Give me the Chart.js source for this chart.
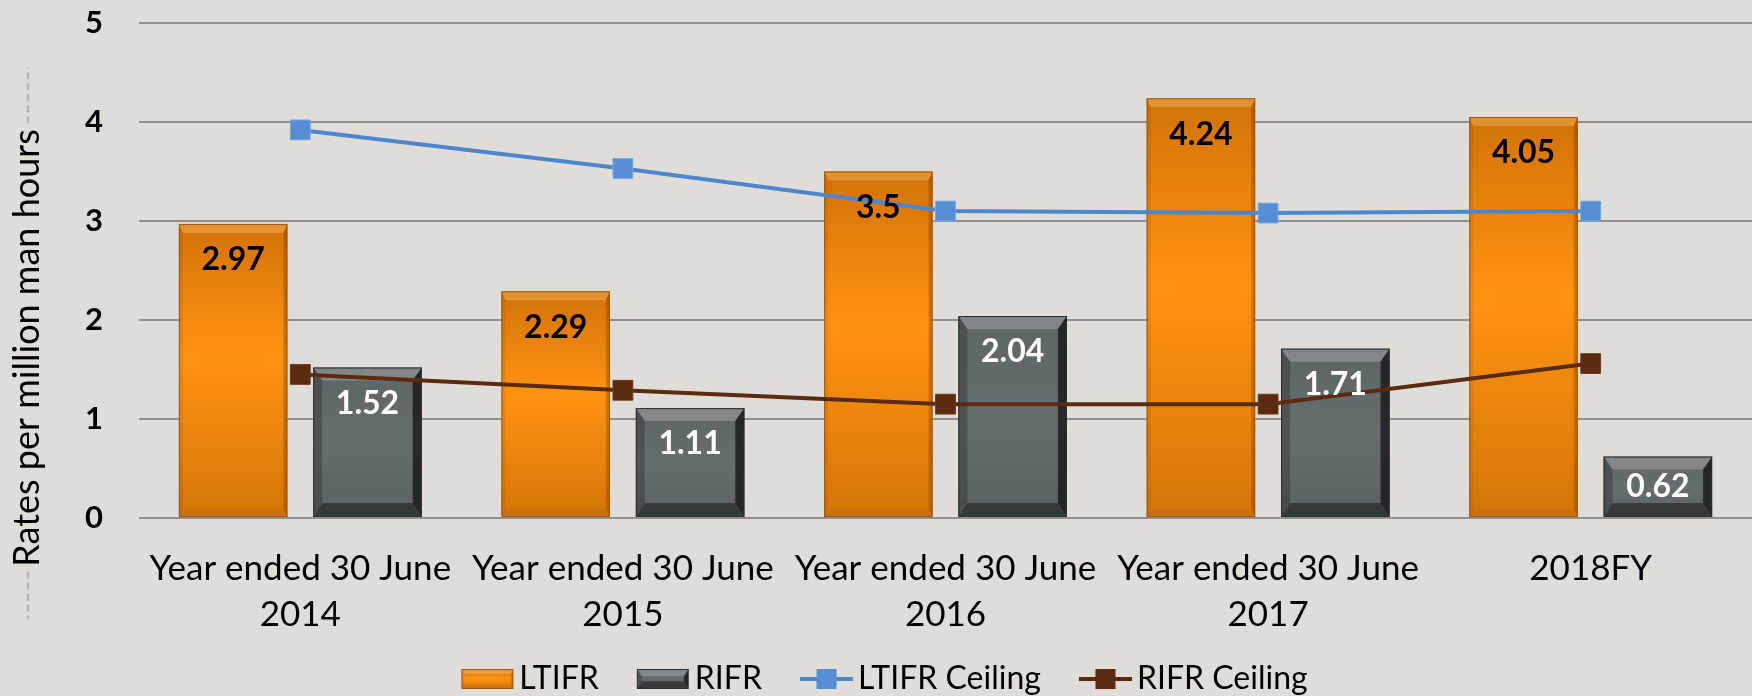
<!DOCTYPE html>
<html>
<head>
<meta charset="utf-8">
<script src="https://cdn.jsdelivr.net/npm/chart.js@4/dist/chart.umd.min.js"></script>
<style>
html,body{margin:0;padding:0;background:#e0ddd8;}
#wrap{width:1752px;height:696px;position:relative;}
canvas{display:block;}
</style>
</head>
<body>
<div id="wrap"><canvas id="c" width="1752" height="696"></canvas></div>
<script>
// ---- data ----
const categories = [["Year ended 30 June","2014"],["Year ended 30 June","2015"],["Year ended 30 June","2016"],["Year ended 30 June","2017"],"2018FY"];
const ltifr = [2.97, 2.29, 3.5, 4.24, 4.05];
const rifr = [1.52, 1.11, 2.04, 1.71, 0.62];
const ltifrCeiling = [3.92, 3.53, 3.10, 3.08, 3.10];
const rifrCeiling = [1.45, 1.29, 1.15, 1.15, 1.56];
const yTicks = [0, 1, 2, 3, 4, 5];
const seriesNames = ["LTIFR", "RIFR", "LTIFR Ceiling", "RIFR Ceiling"];
const yTitle = "Rates per million man hours";

// ---- styles ----
const BG = '#e0ddd8';
const FONT = 'Lato, "Open Sans", sans-serif';
const barStyles = [
  { body: [[0,'#d27207'],[0.45,'#ff9312'],[1,'#d57508']], top:'rgba(255,205,130,0.35)', bottom:'rgba(120,60,0,0.10)',
    left:'rgba(120,60,0,0.12)', right:'rgba(90,40,0,0.28)', bt:9, bb:8, s:4, border:'rgba(150,85,20,0.9)', label:'#000000' },
  { body: [[0,'#5e6567'],[0.5,'#666d6f'],[1,'#5b6264']], top:'rgba(255,255,255,0.22)', bottom:'rgba(0,0,0,0.42)',
    left:'rgba(0,0,0,0.22)', right:'rgba(0,0,0,0.62)', bt:13, bb:14, s:9, border:'#2b2f31', label:'#ffffff' }
];
const lineStyles = [
  { line:'#4f85cb', point:'#558ed5', pborder:'#7aa6de' },
  { line:'#5a2b0e', point:'#5a2b0e', pborder:'#6e3a1a' }
];

function poly(ctx, pts, fill) {
  ctx.beginPath();
  ctx.moveTo(pts[0][0], pts[0][1]);
  for (let i = 1; i < pts.length; i++) ctx.lineTo(pts[i][0], pts[i][1]);
  ctx.closePath();
  ctx.fillStyle = fill;
  ctx.fill();
}
function drawBevelBar(ctx, left, top, right, bottom, P, scale) {
  const w = right - left, h = bottom - top;
  if (h <= 0 || w <= 0) return;
  const k = scale || 1;
  const g = ctx.createLinearGradient(0, top, 0, bottom);
  P.body.forEach(([o, c]) => g.addColorStop(o, c));
  ctx.fillStyle = g;
  ctx.fillRect(left, top, w, h);
  const bt = Math.min(P.bt * k, h / 2), bb = Math.min(P.bb * k, h / 2), s = Math.min(P.s * k, w / 2);
  poly(ctx, [[left, top], [right, top], [right - s, top + bt], [left + s, top + bt]], P.top);
  poly(ctx, [[left, bottom], [right, bottom], [right - s, bottom - bb], [left + s, bottom - bb]], P.bottom);
  poly(ctx, [[left, top], [left + s, top + bt], [left + s, bottom - bb], [left, bottom]], P.left);
  poly(ctx, [[right, top], [right - s, top + bt], [right - s, bottom - bb], [right, bottom]], P.right);
  ctx.strokeStyle = P.border;
  ctx.lineWidth = 1;
  ctx.strokeRect(left + 0.5, top + 0.5, w - 1, h - 1);
}

// ---- legend icons (offset so that they sit just before the text) ----
const LEG_BOX = 79, ICON_W = 53;
function makeIcon(kind, idx) {
  const c = document.createElement('canvas');
  c.width = LEG_BOX + 22; c.height = 22;
  const x = c.getContext('2d');
  const l = c.width - ICON_W;
  if (kind === 'bar') {
    drawBevelBar(x, l, 1, c.width - 1, 21, barStyles[idx], 0.55);
  } else {
    const S = lineStyles[idx];
    x.fillStyle = S.line;
    x.fillRect(l, 9, ICON_W, 4);
    x.fillStyle = S.point;
    x.fillRect(l + ICON_W / 2 - 10, 1, 20, 20);
  }
  return c;
}
const legendIcons = [makeIcon('bar', 0), makeIcon('bar', 1), makeIcon('line', 0), makeIcon('line', 1)];

// ---- plugins ----
const bgPlugin = {
  id: 'bg',
  beforeDraw(chart) {
    const ctx = chart.ctx;
    ctx.save();
    ctx.fillStyle = BG;
    ctx.fillRect(0, 0, chart.width, chart.height);
    ctx.restore();
  }
};
const bevelPlugin = {
  id: 'bevel',
  afterDatasetDraw(chart, args) {
    const i = args.index;
    if (i > 1) return;
    const ctx = chart.ctx;
    const meta = chart.getDatasetMeta(i);
    ctx.save();
    meta.data.forEach(el => {
      const p = el.getProps(['x', 'y', 'width', 'base'], true);
      drawBevelBar(ctx, p.x - p.width / 2, p.y, p.x + p.width / 2, p.base, barStyles[i]);
    });
    ctx.restore();
  }
};
const labelPlugin = {
  id: 'vlabels',
  afterDatasetsDraw(chart) {
    const ctx = chart.ctx;
    ctx.save();
    ctx.font = 'bold 32px ' + FONT;
    ctx.textAlign = 'center';
    ctx.textBaseline = 'middle';
    [0, 1].forEach(i => {
      const meta = chart.getDatasetMeta(i);
      const vals = chart.data.datasets[i].data;
      meta.data.forEach((el, j) => {
        const p = el.getProps(['x', 'y', 'base'], true);
        const h = p.base - p.y;
        ctx.fillStyle = barStyles[i].label;
        ctx.fillText(String(vals[j]), p.x, p.y + Math.min(36, h / 2));
      });
    });
    ctx.restore();
  }
};
const yTitlePlugin = {
  id: 'ytitle',
  afterDraw(chart) {
    const ctx = chart.ctx;
    const cy = chart.height / 2;
    ctx.save();
    ctx.font = '36px ' + FONT;
    const half = ctx.measureText(yTitle).width / 2;
    ctx.translate(38.5, cy);
    ctx.rotate(-Math.PI / 2);
    ctx.fillStyle = '#000000';
    ctx.textAlign = 'center';
    ctx.textBaseline = 'alphabetic';
    ctx.fillText(yTitle, 0, 0);
    ctx.restore();
    ctx.save();
    ctx.strokeStyle = '#b5b5b5';
    ctx.lineWidth = 2.5;
    ctx.setLineDash([7, 4]);
    ctx.beginPath();
    ctx.moveTo(28, cy - half - 6); ctx.lineTo(28, cy - half - 62);
    ctx.moveTo(28, cy + half + 5); ctx.lineTo(28, cy + half + 52);
    ctx.stroke();
    ctx.restore();
  }
};

Chart.defaults.font.family = FONT;
Chart.defaults.color = '#000000';

new Chart(document.getElementById('c'), {
  type: 'bar',
  data: {
    labels: categories,
    datasets: [
      { label: seriesNames[0], data: ltifr, backgroundColor: '#f58c10', borderWidth: 0, order: 2,
        categoryPercentage: 0.833, barPercentage: 0.807 },
      { label: seriesNames[1], data: rifr, backgroundColor: '#5f6668', borderWidth: 0, order: 2,
        categoryPercentage: 0.833, barPercentage: 0.807 },
      { type: 'line', label: seriesNames[2], data: ltifrCeiling, borderColor: lineStyles[0].line,
        backgroundColor: lineStyles[0].point, borderWidth: 4, pointStyle: 'rect', pointRadius: 14,
        pointHoverRadius: 14, pointBorderColor: lineStyles[0].pborder, pointBorderWidth: 1, tension: 0, order: 1 },
      { type: 'line', label: seriesNames[3], data: rifrCeiling, borderColor: lineStyles[1].line,
        backgroundColor: lineStyles[1].point, borderWidth: 4, pointStyle: 'rect', pointRadius: 14,
        pointHoverRadius: 14, pointBorderColor: lineStyles[1].pborder, pointBorderWidth: 1, tension: 0, order: 1 }
    ]
  },
  options: {
    responsive: false,
    animation: false,
    events: [],
    layout: { autoPadding: false, padding: { top: 23, left: -27, right: -7, bottom: -9 } },
    scales: {
      x: {
        grid: { display: false },
        border: { display: false },
        ticks: { font: { size: 35, lineHeight: 1.3 }, color: '#000000', padding: 20, maxRotation: 0, autoSkip: false },
        afterFit(s) { s.height = 144; }
      },
      y: {
        min: yTicks[0], max: yTicks[yTicks.length - 1],
        afterBuildTicks(s) { s.ticks = yTicks.map(v => ({ value: v })); },
        grid: { color: '#8f8f8f', lineWidth: 2, drawTicks: true, tickLength: 33, tickColor: 'rgba(0,0,0,0)' },
        border: { display: false },
        ticks: { font: { size: 31, weight: 'bold' }, color: '#000000', padding: 3 },
        afterFit(s) { s.width = 166; }
      }
    },
    plugins: {
      tooltip: { enabled: false },
      legend: {
        position: 'bottom',
        labels: {
          usePointStyle: true,
          pointStyleWidth: LEG_BOX,
          boxHeight: 20,
          padding: 1,
          color: '#000000',
          font: { size: 32 },
          sort: (a, b) => a.datasetIndex - b.datasetIndex,
          generateLabels(chart) {
            const items = Chart.defaults.plugins.legend.labels.generateLabels(chart);
            items.forEach(it => { it.pointStyle = legendIcons[it.datasetIndex]; });
            return items;
          }
        }
      }
    }
  },
  plugins: [bgPlugin, bevelPlugin, labelPlugin, yTitlePlugin]
});
</script>
</body>
</html>
